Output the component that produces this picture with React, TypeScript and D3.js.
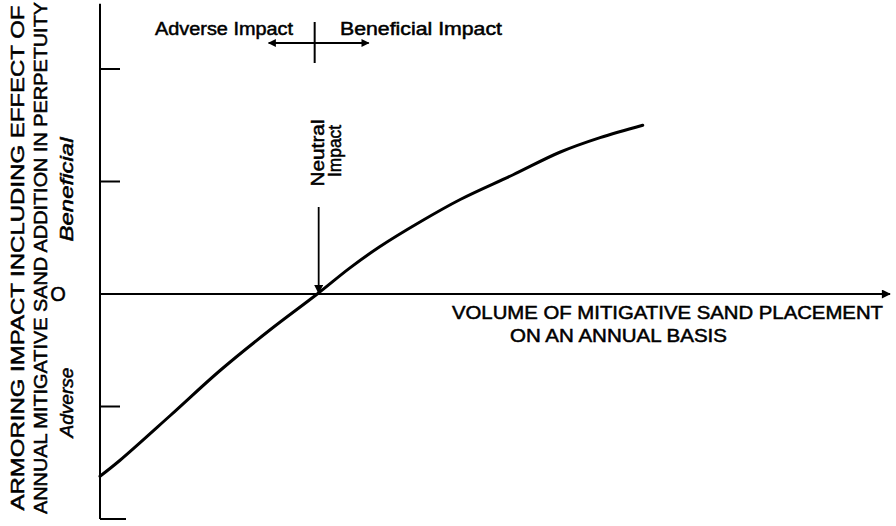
import { scaleLinear, line, curveCatmullRom } from "d3";

// curve
const volume = [0, 0.25, 0.89, 1.52, 2.15, 2.75, 3.16, 3.54, 4.05, 4.56, 5.23, 5.82, 6.33, 6.87];
const impact = [-1.62, -1.48, -1.08, -0.68, -0.32, 0, 0.23, 0.42, 0.64, 0.84, 1.06, 1.26, 1.39, 1.5];
const yTicks = [-2, -1, 1, 2];
const neutralVolume = 2.73;
const yAxisTop = 2.58;

const yLabel1 = "ARMORING IMPACT INCLUDING EFFECT OF";
const yLabel2 = "ANNUAL MITIGATIVE SAND ADDITION IN PERPETUITY";
const xLabel1 = "VOLUME OF MITIGATIVE SAND PLACEMENT";
const xLabel2 = "ON AN ANNUAL BASIS";

const width = 896;
const height = 526;
const font = "'Liberation Sans', Arial, sans-serif";

const App = () => {
    const x = scaleLinear().domain([0, 10]).range([100, 890]);
    const y = scaleLinear().domain([-2, 2]).range([519, 69]);

    const points: [number, number][] = volume.map((v, i) => [v, impact[i]]);
    const path = line<[number, number]>()
        .x(d => x(d[0]))
        .y(d => y(d[1]))
        .curve(curveCatmullRom)(points);

    const nx = x(neutralVolume);

    return (
        <svg width={width} height={height} style={{ position: 'absolute', left: 0, top: 0, background: '#fff' }}
            fontFamily={font} stroke="none">
            <defs>
                <marker id="head" viewBox="0 0 10 10" refX="9" refY="5" markerWidth="12" markerHeight="8"
                    markerUnits="userSpaceOnUse" orient="auto-start-reverse">
                    <path d="M0,0 L10,5 L0,10 Z" fill="#000" />
                </marker>
                <marker id="head2" viewBox="0 0 10 10" refX="9" refY="5" markerWidth="14" markerHeight="9"
                    markerUnits="userSpaceOnUse" orient="auto-start-reverse">
                    <path d="M0,0 L10,5 L0,10 Z" fill="#000" />
                </marker>
            </defs>

            {/* y axis */}
            <line x1={x(0)} x2={x(0)} y1={y(-2)} y2={y(yAxisTop)} stroke="#000" strokeWidth={2} />
            {yTicks.map(t =>
                <line key={t} x1={x(0)} x2={x(0) + (t === -2 ? 26 : 20)} y1={y(t)} y2={y(t)}
                    stroke="#000" strokeWidth={2} />
            )}

            {/* x axis */}
            <line x1={x(0)} x2={x(10)} y1={y(0)} y2={y(0)} stroke="#000" strokeWidth={2}
                markerEnd="url(#head2)" />

            {/* curve */}
            <path d={path ?? ''} fill="none" stroke="#000" strokeWidth={3} strokeLinecap="round" />

            <g stroke="#000" strokeWidth={0.5}>
                {/* neutral impact arrow */}
                <line x1={nx + 3} x2={nx + 3} y1={207} y2={y(0) - 1} strokeWidth={1.8}
                    markerEnd="url(#head2)" />
                <text transform={`translate(${nx + 8},153) rotate(-90)`} textAnchor="middle" fontSize={18}
                    textLength={67} lengthAdjust="spacingAndGlyphs">Neutral</text>
                <text transform={`translate(${nx + 25},151) rotate(-90)`} textAnchor="middle" fontSize={18}
                    textLength={52} lengthAdjust="spacingAndGlyphs">Impact</text>

                {/* top annotation */}
                <line x1={nx - 1} x2={nx - 1} y1={22} y2={63} strokeWidth={2} />
                <line x1={nx - 47} x2={nx + 53} y1={43} y2={43} strokeWidth={2}
                    markerStart="url(#head)" markerEnd="url(#head)" />
                <text x={155} y={35} fontSize={18} textLength={138} lengthAdjust="spacingAndGlyphs">Adverse Impact</text>
                <text x={340} y={35} fontSize={18} textLength={162} lengthAdjust="spacingAndGlyphs">Beneficial Impact</text>

                {/* y labels */}
                <text transform={`translate(24,258) rotate(-90)`} textAnchor="middle" fontSize={18}
                    textLength={505} lengthAdjust="spacingAndGlyphs">{yLabel1}</text>
                <text transform={`translate(47,258) rotate(-90)`} textAnchor="middle" fontSize={18}
                    textLength={512} lengthAdjust="spacingAndGlyphs">{yLabel2}</text>
                <text transform={`translate(73,${y(1) + 8}) rotate(-90)`} textAnchor="middle" fontSize={18}
                    fontStyle="italic" textLength={104} lengthAdjust="spacingAndGlyphs">Beneficial</text>
                <text transform={`translate(73,${y(-1) - 4}) rotate(-90)`} textAnchor="middle" fontSize={18}
                    fontStyle="italic" textLength={70} lengthAdjust="spacingAndGlyphs">Adverse</text>
                <text x={58} y={y(0) + 7} textAnchor="middle" fontSize={20}>O</text>

                {/* x labels */}
                <text x={452} y={319} fontSize={18} textLength={431} lengthAdjust="spacingAndGlyphs">{xLabel1}</text>
                <text x={510} y={342} fontSize={18} textLength={217} lengthAdjust="spacingAndGlyphs">{xLabel2}</text>
            </g>
        </svg>
    );
};

export default App;
